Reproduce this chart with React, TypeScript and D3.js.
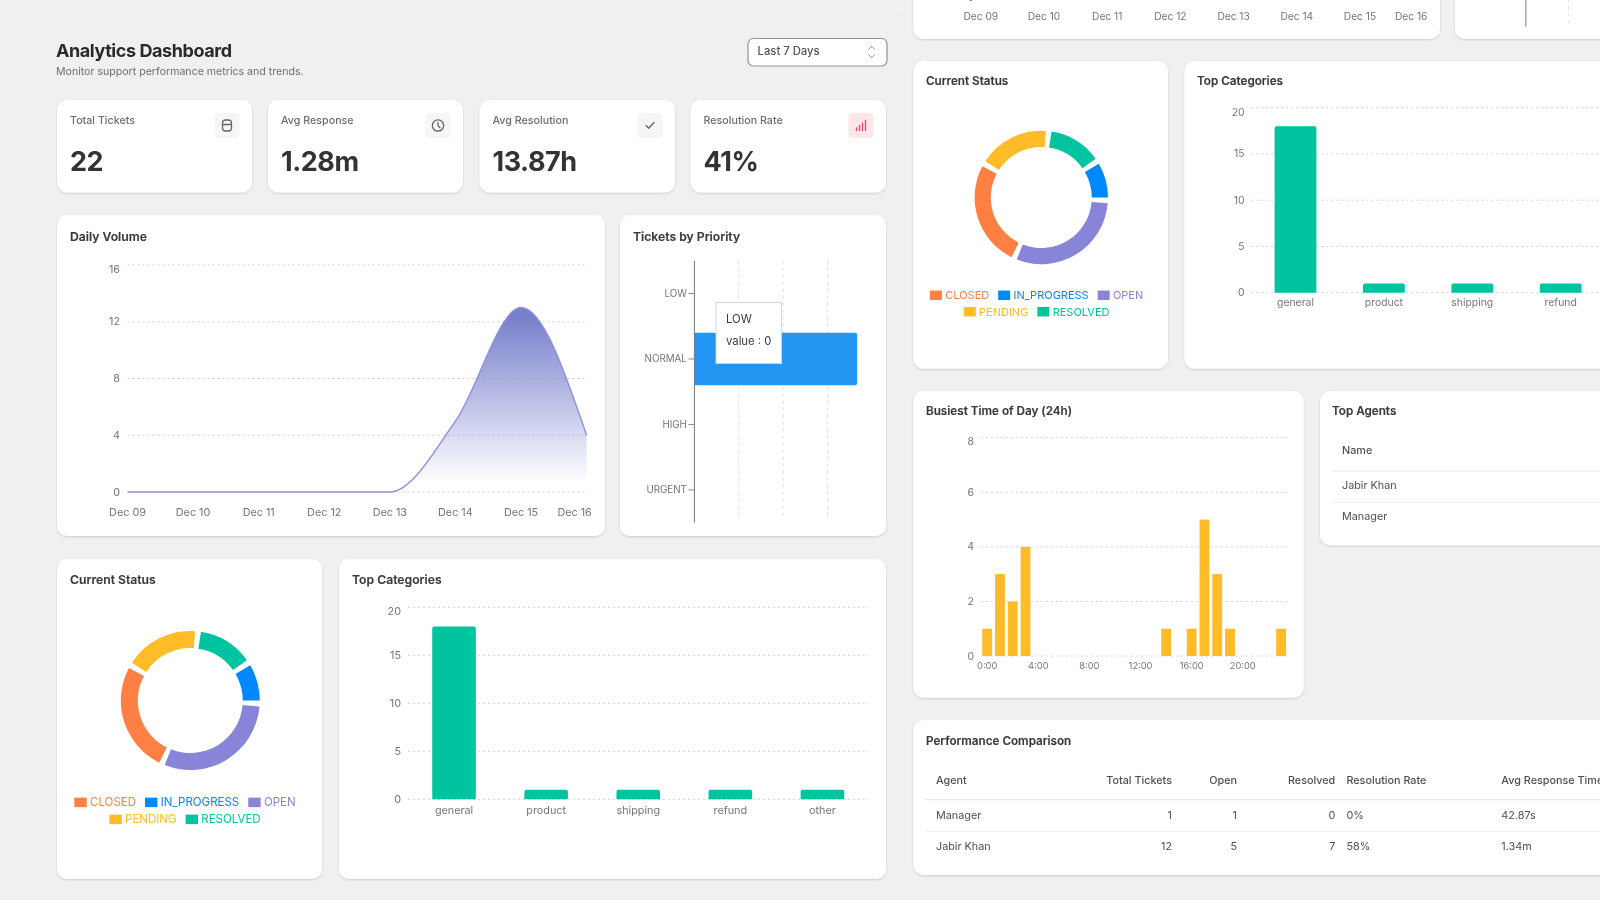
import React from "react";
import * as d3 from "d3";

// ---------- data ----------
const dailyDates = ["Dec 09", "Dec 10", "Dec 11", "Dec 12", "Dec 13", "Dec 14", "Dec 15", "Dec 16"];
const dailyValues = [0, 0, 0, 0, 0, 5, 13, 4];
const dailyTicks = [0, 4, 8, 12, 16];

const priorityNames = ["LOW", "NORMAL", "HIGH", "URGENT"];
const priorityValues = [0, 11, 0, 0];
const priorityGridTicks = [3, 6, 9];

const statusNames = ["IN_PROGRESS", "RESOLVED", "PENDING", "CLOSED", "OPEN"];
const statusValues = [2, 3, 4, 6, 7];
const statusColors = ["#0088FE", "#00C49F", "#FFBB28", "#FF8042", "#8884D8"];
const legendRows = [["CLOSED", "IN_PROGRESS", "OPEN"], ["PENDING", "RESOLVED"]];

const categoryNames = ["general", "product", "shipping", "refund", "other"];
const categoryValues = [18, 1, 1, 1, 1];
const categoryTicks = [0, 5, 10, 15, 20];

const hourValues = [1, 3, 2, 4, 0, 0, 0, 0, 0, 0, 0, 0, 0, 0, 1, 0, 1, 5, 3, 1, 0, 0, 0, 1];
const hourTicks = [0, 2, 4, 6, 8];
const hourLabelEvery = 4;

const statLabels = ["Total Tickets", "Avg Response", "Avg Resolution", "Resolution Rate"];
const statValues = ["22", "1.28m", "13.87h", "41%"];

const agentNames = ["Jabir Khan", "Manager"];
const perfAgents = ["Manager", "Jabir Khan"];
const perfTotal = [1, 12];
const perfOpen = [1, 5];
const perfResolved = [0, 7];
const perfRate = ["0%", "58%"];
const perfResponse = ["42.87s", "1.34m"];

// ---------- styling ----------
const FONT = "Inter, 'Noto Sans', sans-serif";
const TITLE = "#3a3a3a";
const TICK = "#757575";
const GRID = "#d0d0d0";
const BODY = "#4f4f4f";

const measure = (() => {
  const ctx = document.createElement("canvas").getContext("2d")!;
  return (s: string, size: number) => {
    ctx.font = `${size}px Inter`;
    return ctx.measureText(s).width;
  };
})();

function Card({ x, y, x2, y2 }: { x: number; y: number; x2: number; y2: number }) {
  return <rect x={x} y={y} width={x2 - x} height={y2 - y} rx={10} fill="#fff" filter="url(#cardShadow)" />;
}

function T(props: any) {
  const { children, size = 11, fill = TICK, weight = 400, anchor = "start", ...rest } = props;
  // texts scrolled out of the photographed page are not drawn
  if (props.y < -4 || props.x > 1605) return null;
  return (
    <text fontFamily={FONT} fontSize={size} fill={fill} fontWeight={weight} textAnchor={anchor} dominantBaseline="central" {...rest}>
      {children}
    </text>
  );
}

function Title({ x, y, size = 12.2, children }: any) {
  return <T x={x} y={y} size={size} fill={TITLE} weight={600} stroke={TITLE} strokeWidth={0.15}>{children}</T>;
}

function YTicks({ scale, ticks, x0, x1, labelX, topShift, size = 10.5, dash = "2 3" }: any) {
  const top = d3.max(ticks) as number;
  return (
    <g>
      {ticks.map((t: number) => (
        <g key={t}>
          <line x1={x0} x2={x1} y1={scale(t)} y2={scale(t)} stroke={GRID} strokeDasharray={dash} />
          <T x={labelX} y={scale(t) + (t === top ? topShift : 0)} anchor="end" size={size}>{t}</T>
        </g>
      ))}
    </g>
  );
}

function DailyVolume({ id, x0, x1, yTop, yBase, labelX, labelY, lastShift, size }: any) {
  const x = d3.scalePoint<string>().domain(dailyDates).range([x0, x1]);
  const y = d3.scaleLinear().domain([0, 16]).range([yBase, yTop]);
  const px = (_: number, i: number) => x(dailyDates[i])!;
  const area = d3.area<number>().x(px).y0(y(0)).y1((d) => y(d)).curve(d3.curveMonotoneX);
  const line = d3.line<number>().x(px).y((d) => y(d)).curve(d3.curveMonotoneX);
  const peak = y(d3.max(dailyValues)!);
  return (
    <g>
      <defs>
        <linearGradient id={id} gradientUnits="userSpaceOnUse" x1={0} x2={0} y1={peak} y2={y(0)}>
          <stop offset="5%" stopColor="#7079c9" stopOpacity={0.95} />
          <stop offset="95%" stopColor="#7079c9" stopOpacity={0} />
        </linearGradient>
      </defs>
      <YTicks scale={y} ticks={dailyTicks} x0={x0} x1={x1} labelX={labelX} topShift={4} size={size} />
      <path d={area(dailyValues)!} fill={`url(#${id})`} />
      <path d={line(dailyValues)!} fill="none" stroke="#8c91d8" strokeWidth={1.4} />
      {dailyDates.map((d, i) => (
        <T key={d} x={x(d)! + (i === dailyDates.length - 1 ? lastShift : 0)} y={labelY} anchor="middle" size={size}>{d}</T>
      ))}
    </g>
  );
}

function Priority({ x0, x1, yTop, yBase, tooltip }: any) {
  const x = d3.scaleLinear().domain([0, 12]).range([x0, x1]);
  const y = d3.scaleBand<string>().domain(priorityNames).range([yTop, yBase]).paddingInner(0.2).paddingOuter(0.1);
  return (
    <g>
      {priorityGridTicks.map((t) => (
        <line key={t} x1={x(t)} x2={x(t)} y1={yTop} y2={yBase - 3} stroke="#dedede" strokeDasharray="3 4" />
      ))}
      {priorityNames.map((n, i) => {
        const c = y(n)! + y.bandwidth() / 2;
        const w = x(priorityValues[i]) - x(0);
        return (
          <g key={n}>
            {w > 0 && (
              <path
                d={`M${x0},${y(n)}H${x0 + w - 2}q2,0 2,2V${y(n)! + y.bandwidth() - 2}q0,2 -2,2H${x0}Z`}
                fill="#2196F3"
              />
            )}
            <line x1={x0 - 6} x2={x0} y1={c} y2={c} stroke="#888" />
            <T x={x0 - 7.5} y={c} anchor="end" size={9.8}>{n}</T>
          </g>
        );
      })}
      <line x1={x0} x2={x0} y1={yTop} y2={yBase} stroke="#777" strokeWidth={1} />
      {tooltip && (
        <g>
          <rect x={716} y={302.5} width={65.5} height={61} fill="#fff" stroke="#d4d4d4" />
          <T x={726} y={319} size={11.3} fill="#3c3c3c">{priorityNames[0]}</T>
          <T x={726} y={340.5} size={11.3} fill="#3c3c3c">{`value : ${priorityValues[0]}`}</T>
        </g>
      )}
    </g>
  );
}

function Donut({ cx, cy, rIn, rOut, legendY, legendCx, fontSize, iconW, iconH }: any) {
  const padDeg = 5;
  const pad = (padDeg * Math.PI) / 180;
  const start = Math.PI / 2 + pad / 2;
  const pie = d3.pie<number>().sort(null).startAngle(start).endAngle(start - 2 * Math.PI).padAngle(pad);
  const arc = d3.arc();
  const slices = pie(statusValues);
  return (
    <g>
      {slices.map((s, i) => (
        <path
          key={statusNames[i]}
          transform={`translate(${cx},${cy})`}
          fill={statusColors[i]}
          d={arc({ innerRadius: rIn, outerRadius: rOut, startAngle: s.startAngle - pad / 2, endAngle: s.endAngle + pad / 2 } as any)!}
        />
      ))}
      {legendRows.map((row, r) => {
        const gapIcon = 3.3;
        const gapItem = 9;
        const widths = row.map((n) => iconW + gapIcon + measure(n, fontSize));
        const total = d3.sum(widths) + gapItem * (row.length - 1);
        let at = legendCx - total / 2;
        return row.map((n, i) => {
          const left = at;
          at += widths[i] + gapItem;
          const color = statusColors[statusNames.indexOf(n)];
          return (
            <g key={n}>
              <rect x={left} y={legendY[r] - iconH / 2} width={iconW} height={iconH} fill={color} />
              <T x={left + iconW + gapIcon} y={legendY[r]} size={fontSize} fill={color}>{n}</T>
            </g>
          );
        });
      })}
    </g>
  );
}

function Categories({ x0, x1, yTop, yBase, labelX, labelY, size }: any) {
  const x = d3.scaleBand<string>().domain(categoryNames).range([x0, x1]).paddingInner(0.527).paddingOuter(0.2635);
  const y = d3.scaleLinear().domain([0, 20]).range([yBase, yTop]);
  return (
    <g>
      <YTicks scale={y} ticks={categoryTicks} x0={x0} x1={x1} labelX={labelX} topShift={4.4} size={size} />
      {categoryNames.map((n, i) => {
        const bx = x(n)!;
        const by = y(categoryValues[i]);
        const bw = x.bandwidth();
        return (
          <g key={n}>
            <path d={`M${bx},${y(0)}V${by + 2}q0,-2 2,-2H${bx + bw - 2}q2,0 2,2V${y(0)}Z`} fill="#00C49F" />
            <T x={bx + bw / 2} y={labelY} anchor="middle" size={size}>{n}</T>
          </g>
        );
      })}
    </g>
  );
}

function Hours() {
  const hours = hourValues.map((_, i) => i);
  const x = d3.scaleBand<number>().domain(hours).range([980.8, 1287.5]).paddingInner(0.23).paddingOuter(0.115);
  const y = d3.scaleLinear().domain([0, 8]).range([656, 437.7]);
  return (
    <g>
      <YTicks scale={y} ticks={hourTicks} x0={980.8} x1={1287.5} labelX={974} topShift={4} size={10.5} />
      {hours.map((h) => (
        <g key={h}>
          {hourValues[h] > 0 && (
            <rect x={x(h)} y={y(hourValues[h])} width={x.bandwidth()} height={y(0) - y(hourValues[h])} fill="#FFBB28" />
          )}
          {h % hourLabelEvery === 0 && (
            <T x={x(h)! + x.bandwidth() / 2} y={665.5} anchor="middle" size={9.3}>{`${h}:00`}</T>
          )}
        </g>
      ))}
    </g>
  );
}

function StatCard({ i, x, x2 }: { i: number; x: number; x2: number }) {
  const boxX = x2 - 37.5;
  const cxI = boxX + 12.5;
  const cyI = 125.5;
  const stroke = i === 3 ? "#f0475f" : "#666";
  return (
    <g>
      <Card x={x} y={100} x2={x2} y2={192.5} />
      <T x={x + 13} y={120.5} size={10.7} fill="#6c6c6c" weight={500}>{statLabels[i]}</T>
      <T x={x + 13} y={161.5} size={27} fill="#333" weight={700} letterSpacing={-0.45}>{statValues[i]}</T>
      <rect x={boxX} y={113} width={25} height={25} rx={4} fill={i === 3 ? "#ffe6ea" : "#f6f6f6"} />
      <g fill="none" stroke={stroke} strokeWidth={1.3} strokeLinecap="round" strokeLinejoin="round">
        {i === 0 && (
          <g>
            <rect x={cxI - 4.5} y={cyI - 5.5} width={9} height={11} rx={3} />
            <line x1={cxI - 4.5} x2={cxI + 4.5} y1={cyI - 1} y2={cyI - 1} />
          </g>
        )}
        {i === 1 && (
          <g>
            <circle cx={cxI} cy={cyI} r={5.7} />
            <path d={`M${cxI},${cyI - 3}V${cyI}L${cxI + 2},${cyI + 2.4}`} />
          </g>
        )}
        {i === 2 && <path d={`M${cxI - 4},${cyI}L${cxI - 1.3},${cyI + 2.7}L${cxI + 4},${cyI - 3}`} />}
        {i === 3 && [0, 1, 2, 3].map((b) => (
          <line key={b} x1={cxI - 4.5 + b * 3} x2={cxI - 4.5 + b * 3} y1={cyI + 5} y2={cyI + 2.5 - b * 2.6} />
        ))}
      </g>
    </g>
  );
}

export default function App() {
  return (
    <svg
      width={1600}
      height={900}
      viewBox="0 0 1600 900"
      style={{ position: "absolute", left: 0, top: 0, background: "#f0f0f0", filter: "blur(0.7px)" }}
    >
      <defs>
        <filter id="cardShadow" x="-5%" y="-5%" width="110%" height="112%">
          <feDropShadow dx={0} dy={1} stdDeviation={1.2} floodColor="#000" floodOpacity={0.16} />
        </filter>
      </defs>
      <line x1={0} x2={900} y1={16} y2={16} stroke="#ebebeb" />

      {/* header */}
      <T x={56} y={50.5} size={18} fill="#2a2a2a" weight={700} letterSpacing={-0.42}>Analytics Dashboard</T>
      <T x={56} y={71} size={10.6} fill="#6e6e6e">Monitor support performance metrics and trends.</T>
      <rect x={748} y={38.5} width={139} height={27.5} rx={5.5} fill="#fff" stroke="#929292" strokeWidth={1.2} />
      <T x={757.5} y={50.5} size={11.3} fill="#555" weight={500}>Last 7 Days</T>
      <path d="M868.5,49.5l3.2,-3.2l3.2,3.2M868.5,54.5l3.2,3.2l3.2,-3.2" fill="none" stroke="#999" strokeWidth={1} />

      {/* stat cards */}
      <StatCard i={0} x={57} x2={252} />
      <StatCard i={1} x={268} x2={463} />
      <StatCard i={2} x={479.5} x2={675} />
      <StatCard i={3} x={690.5} x2={886} />

      {/* daily volume */}
      <Card x={57} y={215} x2={605} y2={536} />
      <Title x={70} y={236.7}>Daily Volume</Title>
      <DailyVolume id="grad1" x0={127.5} x1={586.6} yTop={265} yBase={492} labelX={120} labelY={512} lastShift={-12} size={10.8} />

      {/* priority */}
      <Card x={620} y={215} x2={886} y2={536} />
      <Title x={633} y={236.7}>Tickets by Priority</Title>
      <Priority x0={694.4} x1={872} yTop={260.7} yBase={522.7} tooltip />

      {/* status + categories, first view */}
      <Card x={57} y={559} x2={322} y2={879} />
      <Title x={70} y={579.5}>Current Status</Title>
      <Donut cx={190.3} cy={700.5} rIn={52.5} rOut={69.5} legendY={[802.4, 819.4]} legendCx={185} fontSize={11.5} iconW={12.4} iconH={9.5} />

      <Card x={339} y={559} x2={886} y2={879} />
      <Title x={352} y={579.5}>Top Categories</Title>
      <Categories x0={408} x1={868.5} yTop={607.3} yBase={799.3} labelX={401} labelY={810.3} size={10.8} />

      {/* second view: daily volume & priority, clipped by the top edge */}
      <Card x={913.4} y={-320} x2={1440} y2={39} />
      <DailyVolume id="grad2" x0={980.8} x1={1423.2} yTop={-222} yBase={-3.4} labelX={974} labelY={16} lastShift={-12} size={10.2} />
      <Card x={1455} y={-320} x2={1640} y2={39} />
      <Priority x0={1525.9} x1={1695.5} yTop={-225} yBase={26.7} />

      {/* second view: status + categories */}
      <Card x={913.4} y={61} x2={1168} y2={368.7} />
      <Title x={926} y={81.2} size={11.7}>Current Status</Title>
      <Donut cx={1041.3} cy={197.5} rIn={50.5} rOut={66.7} legendY={[295.3, 311.7]} legendCx={1036.6} fontSize={11} iconW={12} iconH={9.5} />

      <Card x={1184.4} y={61} x2={1640} y2={368.7} />
      <Title x={1197} y={81.2} size={11.7}>Top Categories</Title>
      <Categories x0={1251.3} x1={1693.3} yTop={107.7} yBase={292.7} labelX={1244.6} labelY={302.7} size={10.4} />

      {/* busiest hour */}
      <Card x={913.4} y={391} x2={1303.6} y2={697.7} />
      <Title x={926} y={410.7} size={11.7}>Busiest Time of Day (24h)</Title>
      <Hours />

      {/* top agents */}
      <Card x={1320} y={391} x2={1640} y2={545.3} />
      <Title x={1332} y={410.7} size={11.7}>Top Agents</Title>
      <T x={1342} y={450.7} size={10.8} fill={BODY} weight={500}>Name</T>
      <line x1={1332} x2={1600} y1={471} y2={471} stroke="#e6e6e6" strokeWidth={1.2} />
      {agentNames.map((n, i) => (
        <g key={n}>
          <T x={1342} y={485 + i * 31.3} size={10.8} fill={BODY}>{n}</T>
          {i === 0 && <line x1={1332} x2={1600} y1={502.3} y2={502.3} stroke="#eeeeee" />}
        </g>
      ))}

      {/* performance comparison */}
      <Card x={913.4} y={720} x2={1640} y2={875} />
      <Title x={926} y={741} size={11.7}>Performance Comparison</Title>
      <g>
        <T x={936} y={780.7} size={10.8} fill={BODY} weight={500}>Agent</T>
        <T x={1172} y={780.7} size={10.8} fill={BODY} weight={500} anchor="end">Total Tickets</T>
        <T x={1237} y={780.7} size={10.8} fill={BODY} weight={500} anchor="end">Open</T>
        <T x={1335.3} y={780.7} size={10.8} fill={BODY} weight={500} anchor="end">Resolved</T>
        <T x={1346.4} y={780.7} size={10.8} fill={BODY} weight={500}>Resolution Rate</T>
        <T x={1501.3} y={780.7} size={10.8} fill={BODY} weight={500}>Avg Response Time</T>
        <line x1={926} x2={1600} y1={799.7} y2={799.7} stroke="#e6e6e6" strokeWidth={1.2} />
        <line x1={926} x2={1600} y1={831.3} y2={831.3} stroke="#eeeeee" />
        {perfAgents.map((n, i) => {
          const ry = 815 + i * 31.3;
          return (
            <g key={n}>
              <T x={936} y={ry} size={10.8} fill={BODY}>{n}</T>
              <T x={1172} y={ry} size={10.8} fill={BODY} anchor="end">{perfTotal[i]}</T>
              <T x={1237} y={ry} size={10.8} fill={BODY} anchor="end">{perfOpen[i]}</T>
              <T x={1335.3} y={ry} size={10.8} fill={BODY} anchor="end">{perfResolved[i]}</T>
              <T x={1346.4} y={ry} size={10.8} fill={BODY}>{perfRate[i]}</T>
              <T x={1501.3} y={ry} size={10.8} fill={BODY}>{perfResponse[i]}</T>
            </g>
          );
        })}
      </g>
    </svg>
  );
}
